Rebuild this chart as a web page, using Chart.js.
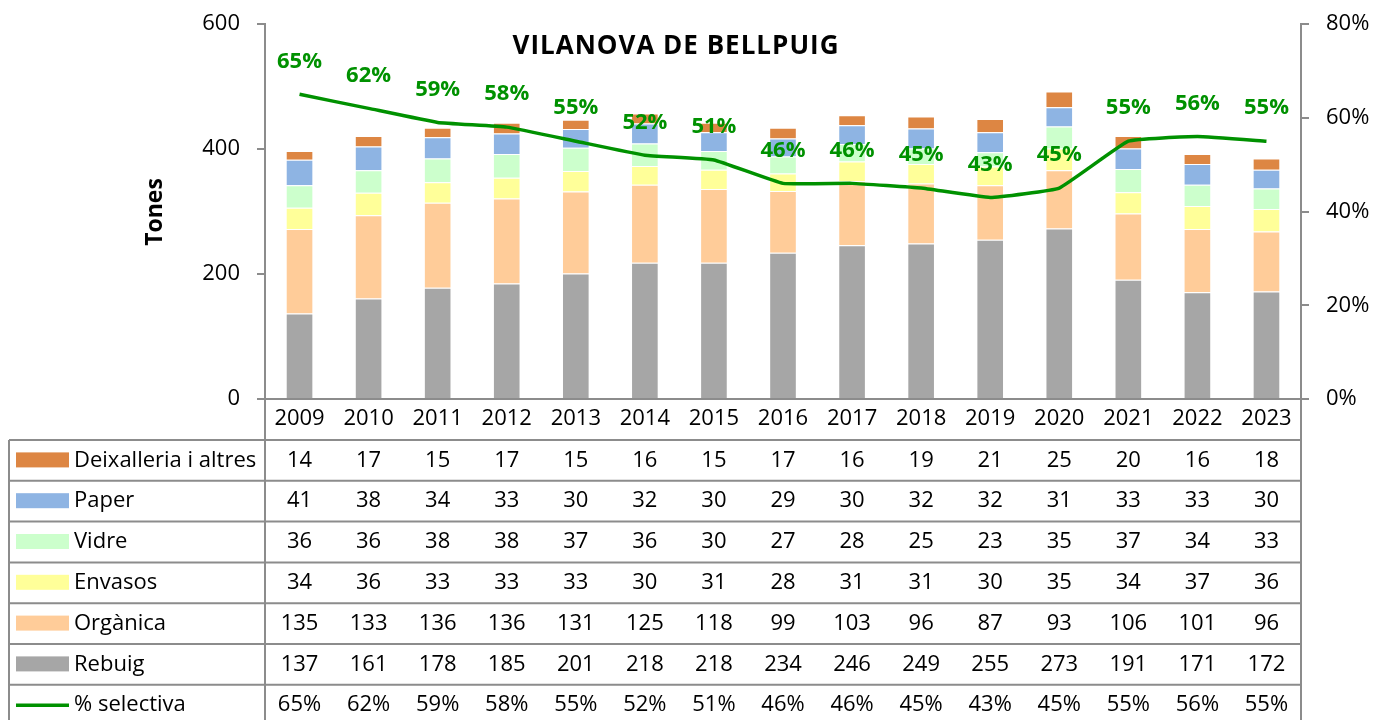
<!DOCTYPE html>
<html>
<head>
<meta charset="utf-8">
<script src="https://cdn.jsdelivr.net/npm/chart.js@4.4.1/dist/chart.umd.min.js"></script>
<style>
  html, body { margin: 0; padding: 0; background: #fff; }
  #wrap { width: 1391px; height: 720px; }
</style>
</head>
<body>
<div id="wrap"><canvas id="residus" width="1391" height="720"></canvas></div>
<script>
const years = ['2009', '2010', '2011', '2012', '2013', '2014', '2015', '2016', '2017', '2018', '2019', '2020', '2021', '2022', '2023'];
const deixalleria = [14, 17, 15, 17, 15, 16, 15, 17, 16, 19, 21, 25, 20, 16, 18];
const paper = [41, 38, 34, 33, 30, 32, 30, 29, 30, 32, 32, 31, 33, 33, 30];
const vidre = [36, 36, 38, 38, 37, 36, 30, 27, 28, 25, 23, 35, 37, 34, 33];
const envasos = [34, 36, 33, 33, 33, 30, 31, 28, 31, 31, 30, 35, 34, 37, 36];
const organica = [135, 133, 136, 136, 131, 125, 118, 99, 103, 96, 87, 93, 106, 101, 96];
const rebuig = [137, 161, 178, 185, 201, 218, 218, 234, 246, 249, 255, 273, 191, 171, 172];
const selectiva = [65, 62, 59, 58, 55, 52, 51, 46, 46, 45, 43, 45, 55, 56, 55];

const FONT = "'Open Sans', 'Noto Sans', sans-serif";
const GRIS = '#8c8c8c';
const VERD = '#009100';

Chart.defaults.font.family = FONT;
Chart.defaults.color = '#000';

// files de la taula, de dalt a baix
const files = [
    { nom: 'Deixalleria i altres', color: '#dd8643', dades: deixalleria },
    { nom: 'Paper', color: '#8eb4e3', dades: paper },
    { nom: 'Vidre', color: '#ccffcc', dades: vidre },
    { nom: 'Envasos', color: '#ffff99', dades: envasos },
    { nom: 'Orgànica', color: '#ffcc99', dades: organica },
    { nom: 'Rebuig', color: '#a6a6a6', dades: rebuig },
    { nom: '% selectiva', color: VERD, dades: selectiva, linia: true }
];

const barres = files.filter(f => !f.linia).reverse().map(f => ({
    type: 'bar',
    label: f.nom,
    data: f.dades,
    backgroundColor: f.color,
    borderColor: 'rgba(255,255,255,0.8)',
    borderWidth: 1,
    yAxisID: 'y',
    stack: 'tones',
    order: 1,
    categoryPercentage: 1,
    barPercentage: 0.4
}));

const linia = {
    type: 'line',
    label: '% selectiva',
    data: selectiva,
    borderColor: VERD,
    borderWidth: 3.5,
    pointRadius: 0,
    tension: 0.1,
    yAxisID: 'y1',
    order: 0
};

const ROW_H = 40.8;

// els eixos verticals no han de reservar marge extra
function sensePadding(s, w) {
    s.width = w;
    s.paddingTop = 0;
    s.paddingBottom = 0;
}

const taulaPlugin = {
    id: 'taula',
    afterDatasetsDraw(chart) {
        const ctx = chart.ctx;
        const meta = chart.getDatasetMeta(0);
        ctx.save();
        ctx.fillStyle = VERD;
        ctx.font = "bold 22px " + FONT;
        ctx.textAlign = 'center';
        ctx.textBaseline = 'middle';
        meta.data.forEach((pt, i) => {
            ctx.fillText(selectiva[i] + '%', pt.x, pt.y - 33);
        });
        ctx.restore();
    },
    afterDraw(chart) {
        const ctx = chart.ctx;
        const area = chart.chartArea;
        const x = chart.scales.x;
        const left = 9;
        const top = area.bottom + 41;
        ctx.save();

        // títol i nom de l'eix
        ctx.fillStyle = '#000';
        ctx.font = "bold 26px " + FONT;
        ctx.letterSpacing = '1px';
        ctx.textAlign = 'center';
        ctx.textBaseline = 'middle';
        ctx.fillText('VILANOVA DE BELLPUIG', 676, 47);
        ctx.letterSpacing = '0px';
        ctx.save();
        ctx.translate(155, 212);
        ctx.rotate(-Math.PI / 2);
        ctx.font = "bold 23px " + FONT;
        ctx.fillText('Tones', 0, 0);
        ctx.restore();

        // línies de la taula
        ctx.strokeStyle = GRIS;
        ctx.lineWidth = 2;
        ctx.beginPath();
        for (let r = 0; r <= files.length; r++) {
            const y = top + r * ROW_H;
            ctx.moveTo(left, y);
            ctx.lineTo(area.right, y);
        }
        ctx.moveTo(left, top);
        ctx.lineTo(left, 720);
        ctx.moveTo(area.left, area.bottom);
        ctx.lineTo(area.left, 720);
        ctx.moveTo(area.right, area.bottom);
        ctx.lineTo(area.right, 720);
        ctx.stroke();

        // contingut de les files
        ctx.font = "22px " + FONT;
        files.forEach((f, r) => {
            const yc = top + r * ROW_H + ROW_H / 2;
            if (f.linia) {
                ctx.strokeStyle = f.color;
                ctx.lineWidth = 3.5;
                ctx.beginPath();
                ctx.moveTo(16, yc);
                ctx.lineTo(69, yc);
                ctx.stroke();
            } else {
                ctx.fillStyle = f.color;
                ctx.fillRect(16, yc - 8, 53, 15);
            }
            ctx.fillStyle = '#000';
            ctx.textAlign = 'left';
            ctx.fillText(f.nom, 74, yc);
            ctx.textAlign = 'center';
            f.dades.forEach((v, i) => {
                ctx.fillText(f.linia ? v + '%' : String(v), x.getPixelForValue(i), yc);
            });
        });
        ctx.restore();
    }
};

new Chart(document.getElementById('residus'), {
    data: { labels: years, datasets: [linia, ...barres] },
    options: {
        responsive: false,
        animation: false,
        layout: { padding: { top: 24, bottom: 280, left: 0, right: 0 } },
        plugins: {
            legend: { display: false },
            title: { display: false },
            tooltip: { enabled: false }
        },
        scales: {
            x: {
                stacked: true,
                grid: { display: false, drawTicks: false },
                border: { display: true, color: GRIS, width: 2 },
                ticks: { font: { size: 22 }, color: '#000', padding: 7, maxRotation: 0 },
                afterFit(s) { s.height = 41; }
            },
            y: {
                stacked: true,
                position: 'left',
                min: 0,
                max: 600,
                ticks: { stepSize: 200, font: { size: 22 }, color: '#000', padding: 17 },
                grid: { drawOnChartArea: false, drawTicks: true, tickLength: 8, color: GRIS, lineWidth: 2 },
                border: { display: true, color: GRIS, width: 2 },
                afterFit(s) { sensePadding(s, 265); }
            },
            y1: {
                position: 'right',
                min: 0,
                max: 80,
                ticks: { stepSize: 20, font: { size: 22 }, color: '#000', padding: 17, callback: v => v + '%' },
                grid: { drawOnChartArea: false, drawTicks: true, tickLength: 8, color: GRIS, lineWidth: 2 },
                border: { display: true, color: GRIS, width: 2 },
                afterFit(s) { sensePadding(s, 90); }
            }
        }
    },
    plugins: [taulaPlugin]
});
</script>
</body>
</html>
